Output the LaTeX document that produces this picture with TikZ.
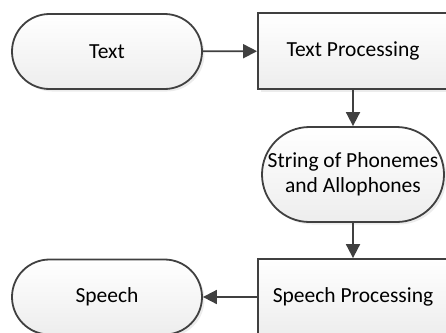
\documentclass[tikz,border=0pt]{standalone}
\usepackage{fontspec}
\setmainfont{Carlito}
\usetikzlibrary{arrows.meta,shadows}
\tikzset{
  x=1pt, y=1pt,
  base/.style={draw=black!75, line width=1.8pt, font=\fontsize{21.5}{25}\selectfont,
    top color=white, bottom color=black!7, align=center, inner sep=0pt,
    drop shadow={opacity=0.15, shadow xshift=2.5pt, shadow yshift=-2.5pt}},
  terminal/.style={base, rectangle, rounded corners=#1},
  process/.style={base, rectangle},
  flow/.style={draw=black!75, line width=1.8pt, -{Triangle[length=14pt,width=14pt]}}
}
\begin{document}
\begin{tikzpicture}
\useasboundingbox (0,0) rectangle (446,-332);
\clip (0,0) rectangle (446,-332);
\node[terminal=37.5pt, minimum width=190pt, minimum height=75pt] (text) at (107,-51.5) {Text};
\node[process, minimum width=190pt, minimum height=76pt] (tp) at (353,-51) {Text Processing};
\node[terminal=47.5pt, minimum width=182pt, minimum height=95pt] (str) at (353,-174.5) {String of Phonemes\\and Allophones};
\node[process, minimum width=190pt, minimum height=76pt] (sp) at (353,-297) {Speech Processing};
\node[terminal=37.5pt, minimum width=190pt, minimum height=75pt] (speech) at (107,-297) {Speech};
\draw[flow] (text) -- (tp);
\draw[flow] (tp) -- (str);
\draw[flow] (str) -- (sp);
\draw[flow] (sp) -- (speech);
\end{tikzpicture}
\end{document}
